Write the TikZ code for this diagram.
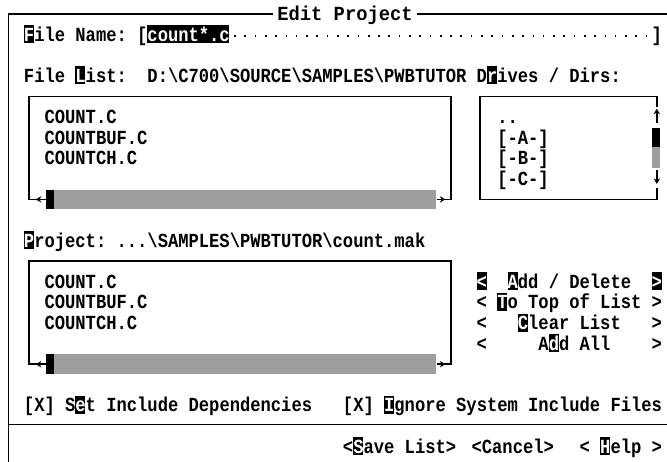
\documentclass[tikz,border=0pt]{standalone}
\usepackage{fontspec}
\usetikzlibrary{arrows.meta}
\newfontfamily\dosfont{Liberation Mono}[FakeStretch=0.8575]
\newfontfamily\dostitle{Liberation Mono}[FakeStretch=0.94]
\newcommand\hl[1]{\textcolor{white}{#1}}
\newcommand\bsl{\textbackslash}
\tikzset{
  txt/.style={anchor=base west, inner sep=0pt, outer sep=0pt,
    font=\dosfont\bfseries\fontsize{20}{20}\selectfont\frenchspacing},
  ttl/.style={anchor=base, inner sep=0pt, outer sep=0pt,
    font=\dostitle\bfseries\fontsize{20}{20}\selectfont\frenchspacing},
  frameline/.style={line width=1.5pt, line cap=rect},
  boxline/.style={line width=1.4pt},
  shadefill/.style={fill=black!38},
  arr/.style={-{Stealth[length=5.5pt,width=6.5pt]}, line width=1.6pt},
}
\newcommand\invcell[3]{\fill (#1,#2-0.46) rectangle (#1+#3-0.03,#2+0.42);}
\begin{document}
\begin{tikzpicture}
\useasboundingbox[fill=white] (0pt,0pt) rectangle (667pt,-462pt);
\begin{scope}[x=10.29pt, y=-20.6pt, shift={(3.4pt,-14pt)}]
% ---------- outer frame ----------
\draw[frameline] (26.1,0) -- (0.5,0) -- (0.5,21.8);
\draw[frameline] (40.3,0) -- (64.6,0);
\node[ttl] (title) at (33.2,0.316) {Edit Project};
\draw[frameline] (0.5,19.92) -- (64.6,19.92);

% ---------- highlight cells ----------
\invcell{2}{1}{1}
\invcell{14}{1}{8}
\invcell{7}{3}{1}
\invcell{47}{3}{1}
\invcell{2}{11}{1}
\invcell{46}{13}{1}
\invcell{49}{13}{1}
\invcell{63}{13}{1}
\invcell{48}{14}{1}
\invcell{50}{15}{1}
\invcell{53}{16}{1}
\invcell{7}{19}{1}
\invcell{37}{19}{1}
\invcell{34}{21}{1}
\invcell{58}{21}{1}

% ---------- row 1 : file name ----------
\node[txt] (fname) at (2,1.316) {\hl{F}ile Name: [};
\node[txt] (fvalue) at (14,1.316) {\hl{count*.c}};
\foreach \c in {22,...,62} \fill (\c+0.42,1.03) rectangle (\c+0.58,1.11);
\node[txt] (fend) at (63,1.316) {]};

% ---------- row 3 ----------
\node[txt] (flist) at (2,3.316) {File \hl{L}ist:};
\node[txt] (fpath) at (14,3.316) {D:\bsl C700\bsl SOURCE\bsl SAMPLES\bsl PWBTUTOR};
\node[txt] (drives) at (46,3.316) {D\hl{r}ives / Dirs:};

% ---------- file list box ----------
\draw[boxline] (4.1,9) -- (2.5,9) -- (2.5,4) -- (43.5,4) -- (43.5,9) -- (42.1,9);
\fill (4.1,8.52) rectangle (4.95,9.48);
\fill[shadefill] (4.95,8.52) rectangle (42,9.48);
\draw[arr] (4.1,9) -- (3.15,9);
\draw[arr] (42.1,9) -- (42.95,9);
\node[txt] (l1) at (4,5.316) {COUNT.C};
\node[txt] (l2) at (4,6.316) {COUNTBUF.C};
\node[txt] (l3) at (4,7.316) {COUNTCH.C};

% ---------- drives box ----------
\draw[boxline] (63.5,4.5) -- (63.5,4) -- (46.3,4) -- (46.3,9) -- (63.5,9) -- (63.5,8.45);
\draw[arr] (63.5,5.28) -- (63.5,4.6);
\fill (63.05,5.52) rectangle (63.85,6.48);
\fill[shadefill] (63.05,6.48) rectangle (63.85,7.48);
\draw[arr] (63.5,7.58) -- (63.5,8.25);
\node[txt] (d0) at (48,5.316) {..};
\node[txt] (d1) at (48,6.316) {[-A-]};
\node[txt] (d2) at (48,7.316) {[-B-]};
\node[txt] (d3) at (48,8.316) {[-C-]};

% ---------- row 11 ----------
\node[txt] (proj) at (2,11.316) {\hl{P}roject: ...\bsl SAMPLES\bsl PWBTUTOR\bsl count.mak};

% ---------- project box ----------
\draw[boxline] (4.1,17) -- (2.5,17) -- (2.5,12) -- (43.5,12) -- (43.5,17) -- (42.1,17);
\fill (4.1,16.52) rectangle (4.95,17.48);
\fill[shadefill] (4.95,16.52) rectangle (42,17.48);
\draw[arr] (4.1,17) -- (3.15,17);
\draw[arr] (42.1,17) -- (42.95,17);
\node[txt] (p1) at (4,13.316) {COUNT.C};
\node[txt] (p2) at (4,14.316) {COUNTBUF.C};
\node[txt] (p3) at (4,15.316) {COUNTCH.C};

% ---------- buttons ----------
\node[txt] (b1l) at (46,13.316) {\hl{<}};
\node[txt] (b1) at (49,13.316) {\hl{A}dd / Delete};
\node[txt] (b1r) at (63,13.316) {\hl{>}};
\node[txt] (b2l) at (46,14.316) {<};
\node[txt] (b2) at (48,14.316) {\hl{T}o Top of List};
\node[txt] (b2r) at (63,14.316) {>};
\node[txt] (b3l) at (46,15.316) {<};
\node[txt] (b3) at (50,15.316) {\hl{C}lear List};
\node[txt] (b3r) at (63,15.316) {>};
\node[txt] (b4l) at (46,16.316) {<};
\node[txt] (b4) at (52,16.316) {A\hl{d}d All};
\node[txt] (b4r) at (63,16.316) {>};

% ---------- check boxes ----------
\node[txt] (chk1) at (2,19.316) {[X] S\hl{e}t Include Dependencies};
\node[txt] (chk2) at (33,19.316) {[X] \hl{I}gnore System Include Files};

% ---------- bottom buttons ----------
\node[txt] (save) at (33,21.316) {<\hl{S}ave List>};
\node[txt] (cancel) at (45.5,21.316) {<Cancel>};
\node[txt] (help) at (56,21.316) {< \hl{H}elp >};
\end{scope}
\end{tikzpicture}
\end{document}
